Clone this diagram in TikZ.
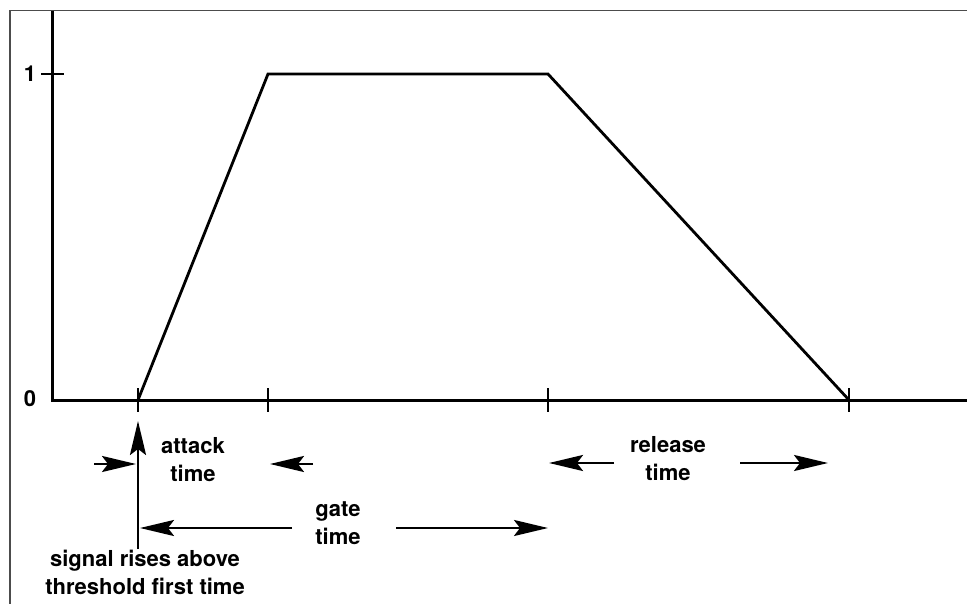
\documentclass[tikz,border=0pt]{standalone}
\usepackage{fontspec}
\setmainfont{TeX Gyre Heros}
\usetikzlibrary{arrows.meta}
\tikzset{
  axis/.style={line width=3pt},
  tickline/.style={line width=2.6pt},
  env/.style={line width=2.8pt,line join=miter},
  dimarrow/.style={line width=2.5pt,arrows={-Stealth[length=34pt,width=16pt,inset=6pt]}},
  lbl/.style={font=\fontsize{22}{28}\selectfont\bfseries,align=center,inner sep=0pt}
}
\begin{document}
\begin{tikzpicture}[x=1pt,y=-1pt]
\useasboundingbox (0,0) rectangle (967,604);
% frame
\draw[line width=1.6pt,draw=black!70] (10,604) -- (10,10.5) -- (967,10.5);
% axes
\coordinate (yt) at (52,11);
\coordinate (o) at (52,400);
\coordinate (xe) at (967,400);
\draw[axis] (yt) -- (o) -- (xe);
% y tick
\coordinate (y1a) at (41,74);
\coordinate (y1b) at (64,74);
\draw[tickline] (y1a) -- (y1b);
\node[lbl] (one) at (30,74) {1};
\node[lbl] (zero) at (30,399) {0};
% x ticks
\foreach \n/\x in {ta/138,tb/268,tc/548,td/849}{
  \coordinate (\n u) at (\x,388);
  \coordinate (\n d) at (\x,412);
  \draw[tickline] (\n u) -- (\n d);
}
% envelope
\coordinate (e0) at (138,400);
\coordinate (e1) at (268,74);
\coordinate (e2) at (548,74);
\coordinate (e3) at (849,400);
\draw[env] (e0) -- (e1) -- (e2) -- (e3);
% signal rise arrow
\coordinate (sb) at (138,549);
\coordinate (st) at (138,421);
\draw[dimarrow] (sb) -- (st);
\node[lbl] (sig) at (145,572) {signal rises above\\threshold first time};
% attack time
\node[lbl] (att) at (193,460) {attack\\time};
\coordinate (a1) at (94,464);
\coordinate (a1t) at (136,464);
\coordinate (a2) at (313,464);
\coordinate (a2t) at (270,464);
\draw[dimarrow] (a1) -- (a1t);
\draw[dimarrow] (a2) -- (a2t);
% gate time
\node[lbl] (gate) at (338,523) {gate\\time};
\coordinate (g1) at (292,528);
\coordinate (g1t) at (140,528);
\coordinate (g2) at (396,528);
\coordinate (g2t) at (548,528);
\draw[dimarrow] (g1) -- (g1t);
\draw[dimarrow] (g2) -- (g2t);
% release time
\node[lbl] (rel) at (668,459) {release\\time};
\coordinate (r1) at (614,463);
\coordinate (r1t) at (549,463);
\coordinate (r2) at (740,463);
\coordinate (r2t) at (828,463);
\draw[dimarrow] (r1) -- (r1t);
\draw[dimarrow] (r2) -- (r2t);
\end{tikzpicture}
\end{document}
